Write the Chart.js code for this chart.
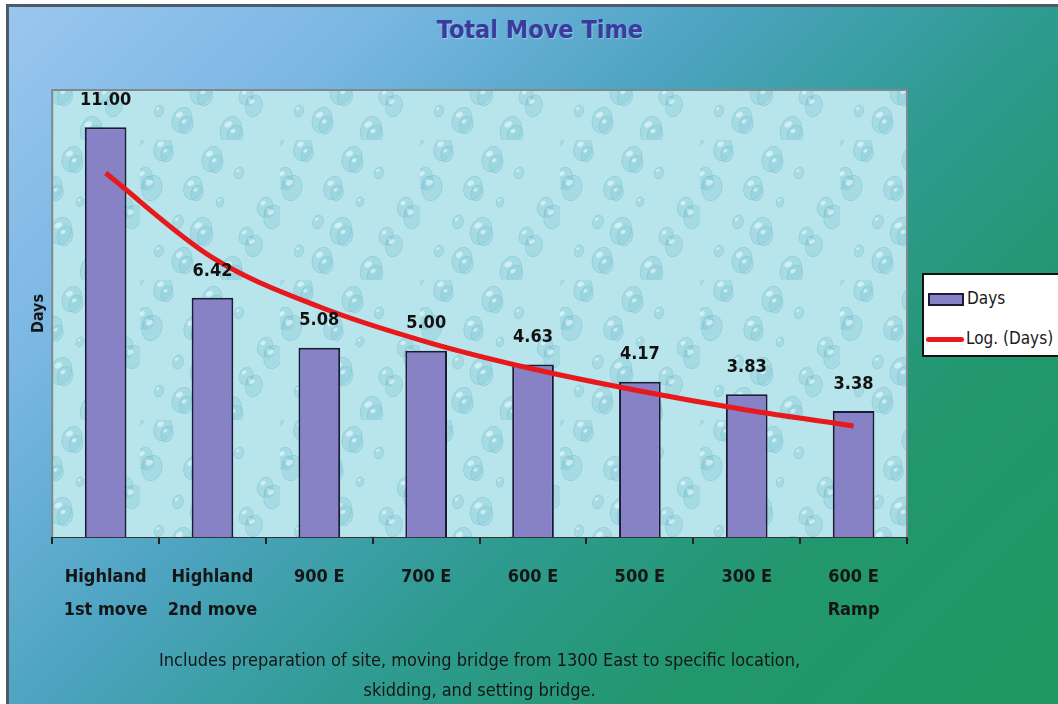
<!DOCTYPE html>
<html>
<head>
    <title>Total Move Time</title>
    <script src="https://cdn.jsdelivr.net/npm/chart.js@4.4.0/dist/chart.umd.min.js"></script>
    <style>
        html, body {
            margin: 0;
            padding: 0;
            width: 1058px;
            height: 704px;
            overflow: hidden;
            background: #ffffff;
        }
        .frame {
            position: absolute;
            left: 6px;
            top: 4px;
            width: 1100px;
            height: 760px;
            border-top: 3px solid #4d5b66;
            border-left: 3px solid #4d5b66;
            background: linear-gradient(135deg, #9ac6ee 0%, #7ab7e3 20%, #4ea4c2 38%, #2f9b92 55%, #22976e 72%, #1e9a5c 100%);
        }
        .title {
            position: absolute;
            left: 340px;
            width: 400px;
            top: 15px;
            text-align: center;
            font-family: "Liberation Sans Narrow", "Arial Narrow", "DejaVu Sans Condensed", sans-serif;
            font-weight: bold;
            font-size: 25px;
            color: #3b3b9e;
            text-shadow: 1px 1px 1px rgba(255,255,255,0.35);
        }
        .legend {
            position: absolute;
            left: 922px;
            top: 273px;
            width: 160px;
            height: 80px;
            background: #ffffff;
            border: 2px solid #111;
            font-family: "Liberation Sans Narrow", "Arial Narrow", "DejaVu Sans Condensed", sans-serif;
            font-size: 17px;
            color: #1a1a1a;
        }
        .legend .item {
            position: absolute;
            left: 4px;
            height: 22px;
            line-height: 22px;
            white-space: nowrap;
        }
        .legend .swatch {
            display: inline-block;
            vertical-align: middle;
            width: 32px;
            height: 9px;
            background: #8781c6;
            border: 2px solid #1c1a38;
            margin-right: 3px;
        }
        .legend .line {
            display: inline-block;
            vertical-align: middle;
            width: 38px;
            height: 5px;
            border-radius: 3px;
            background: #e8191c;
            margin-right: 2px;
        }
        #chart {
            position: absolute;
            left: 0;
            top: 0;
        }
    </style>
</head>
<body>
    <div class="frame"></div>
    <div class="title">Total Move Time</div>
    <canvas id="chart" width="1058" height="704"></canvas>
    <div class="legend">
        <div class="item" style="top: 12px;"><span class="swatch"></span>Days</div>
        <div class="item" style="top: 52px; left: 2px;"><span class="line"></span>Log. (Days)</div>
    </div>

    <script>
        const categories = [
            ['Highland', '1st move'],
            ['Highland', '2nd move'],
            '900 E',
            '700 E',
            '600 E',
            '500 E',
            '300 E',
            ['600 E', 'Ramp']
        ];
        const days = [11.00, 6.42, 5.08, 5.00, 4.63, 4.17, 3.83, 3.38];
        // logarithmic trend line
        const logDays = [9.77, 7.50, 6.18, 5.24, 4.51, 3.92, 3.41, 2.98];
        const footnote = [
            'Includes preparation of site, moving bridge from 1300 East to specific location,',
            'skidding, and setting bridge.'
        ];

        const narrow = '"Liberation Sans Narrow", "Arial Narrow", "DejaVu Sans Condensed", sans-serif';

        // water drop look for the plot area
        function makeTexture() {
            const tile = document.createElement('canvas');
            tile.width = 140;
            tile.height = 140;
            const c = tile.getContext('2d');
            c.fillStyle = '#b8e4eb';
            c.fillRect(0, 0, 140, 140);
            for (let i = 0; i < 26; i++) {
                const x = (i * 53) % 140;
                const y = (i * 37 + (i % 3) * 11) % 140;
                const r = 5 + (i * 7) % 10;
                c.beginPath();
                c.ellipse(x, y, r * 0.75, r, 0.3, 0, Math.PI * 2);
                c.fillStyle = 'rgba(140, 206, 218, 0.4)';
                c.fill();
                c.strokeStyle = 'rgba(100, 176, 194, 0.3)';
                c.lineWidth = 1;
                c.stroke();
                c.beginPath();
                c.ellipse(x - r * 0.2, y - r * 0.4, r * 0.28, r * 0.2, -0.5, 0, Math.PI * 2);
                c.fillStyle = 'rgba(235, 252, 255, 0.6)';
                c.fill();
            }
            return tile;
        }

        const plotBackground = {
            id: 'plotBackground',
            beforeDatasetsDraw(chart) {
                const {ctx, chartArea: a} = chart;
                ctx.save();
                ctx.fillStyle = ctx.createPattern(makeTexture(), 'repeat');
                ctx.fillRect(a.left, a.top, a.right - a.left, a.bottom - a.top);
                ctx.strokeStyle = '#7f8a90';
                ctx.lineWidth = 2;
                ctx.beginPath();
                ctx.moveTo(a.left, a.bottom);
                ctx.lineTo(a.left, a.top);
                ctx.lineTo(a.right, a.top);
                ctx.lineTo(a.right, a.bottom);
                ctx.stroke();
                ctx.restore();
            }
        };

        const valueLabels = {
            id: 'valueLabels',
            afterDatasetsDraw(chart) {
                const {ctx} = chart;
                const meta = chart.getDatasetMeta(1);
                ctx.save();
                ctx.font = 'bold 18px ' + narrow;
                ctx.fillStyle = '#111';
                ctx.textAlign = 'center';
                ctx.textBaseline = 'middle';
                meta.data.forEach((bar, i) => {
                    ctx.fillText(days[i].toFixed(2), bar.x, bar.y - 27);
                });
                ctx.restore();
            }
        };

        new Chart(document.getElementById('chart'), {
            data: {
                labels: categories,
                datasets: [{
                    type: 'line',
                    label: 'Log. (Days)',
                    data: logDays,
                    borderColor: '#e8191c',
                    borderWidth: 5,
                    pointRadius: 0,
                    cubicInterpolationMode: 'monotone',
                    order: 0
                }, {
                    type: 'bar',
                    label: 'Days',
                    data: days,
                    backgroundColor: '#8781c6',
                    borderColor: '#1c1a38',
                    borderWidth: 2,
                    categoryPercentage: 1,
                    barPercentage: 0.39,
                    order: 1
                }]
            },
            options: {
                responsive: false,
                animation: false,
                layout: {
                    padding: {top: 90, right: 151, left: 25, bottom: -2}
                },
                plugins: {
                    legend: {display: false},
                    tooltip: {enabled: false}
                },
                scales: {
                    x: {
                        grid: {
                            display: true,
                            drawOnChartArea: false,
                            drawTicks: true,
                            tickLength: 7,
                            color: '#222',
                            lineWidth: 2,
                            offset: true
                        },
                        border: {display: true, color: '#333', width: 2},
                        ticks: {
                            color: '#151515',
                            padding: 17,
                            maxRotation: 0,
                            autoSkip: false,
                            font: {family: narrow, size: 18, weight: 'bold', lineHeight: '33px'}
                        },
                        title: {
                            display: true,
                            text: footnote,
                            color: '#151515',
                            padding: {top: 2, bottom: 0},
                            font: {family: narrow, size: 18, lineHeight: '30px'}
                        }
                    },
                    y: {
                        min: 0,
                        max: 12,
                        grid: {display: false, drawTicks: false, tickLength: 0},
                        border: {display: false},
                        ticks: {display: false},
                        title: {
                            display: true,
                            text: 'Days',
                            color: '#151515',
                            padding: {top: 4, bottom: 4},
                            font: {family: narrow, size: 16, weight: 'bold'}
                        }
                    }
                }
            },
            plugins: [plotBackground, valueLabels]
        });
    </script>
</body>
</html>
